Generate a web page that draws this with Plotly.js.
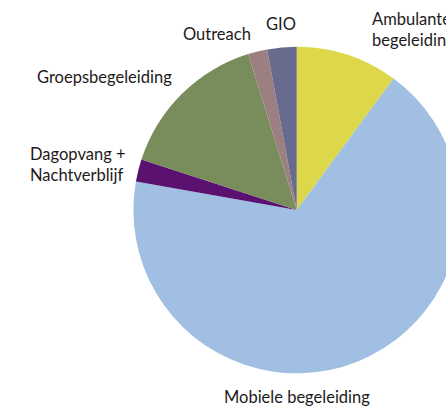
<!DOCTYPE html>
<html>
<head>
<meta charset="utf-8">
<script src="https://cdn.plot.ly/plotly-3.0.1.min.js"></script>
<style>
html,body{margin:0;padding:0;overflow:hidden;background:#fff;}
#chart{width:480px;height:412px;}
</style>
</head>
<body>
<div id="chart"></div>
<script>
// Data (percent shares)
const categories = ["Ambulante begeleiding", "Mobiele begeleiding", "Dagopvang + Nachtverblijf", "Groepsbegeleiding", "Outreach", "GIO"];
const shares = [10.1, 67.7, 2.2, 15.2, 1.9, 2.9];
const sliceColors = ["#DCD84A", "#A0BFE3", "#5A1170", "#798C5C", "#9C7F80", "#686B8D"];
const labelTexts = ["Ambulante<br>begeleiding", "Mobiele begeleiding", "Dagopvang +<br>Nachtverblijf", "Groepsbegeleiding", "Outreach", "GIO"];

const W = 480, H = 412;
const trace = {
  type: "pie",
  labels: categories,
  values: shares,
  sort: false,
  direction: "clockwise",
  rotation: 0,
  textinfo: "none",
  hoverinfo: "label+percent",
  marker: {colors: sliceColors, line: {width: 0}},
  domain: {x: [133.4 / W, 460 / W], y: [(H - 373.3) / H, (H - 46.7) / H]}
};

const font = {family: "Lato, sans-serif", size: 16.5, color: "#1E1A1B"};
const labelPos = [
  {x: 370, y: 30, xanchor: "left", align: "left"},
  {x: 296.7, y: 397, xanchor: "center", align: "center"},
  {x: 28, y: 165, xanchor: "left", align: "left"},
  {x: 104.3, y: 77.5, xanchor: "center", align: "center"},
  {x: 216.8, y: 33.5, xanchor: "center", align: "center"},
  {x: 281, y: 24, xanchor: "center", align: "center"}
];
const annotations = labelTexts.map((t, i) => ({
  text: t,
  xref: "paper", yref: "paper",
  x: labelPos[i].x / W, y: 1 - labelPos[i].y / H,
  xanchor: labelPos[i].xanchor, yanchor: "middle", align: labelPos[i].align,
  showarrow: false, font: font
}));

Plotly.newPlot("chart", [trace], {
  width: W, height: H,
  margin: {l: 0, r: 0, t: 0, b: 0},
  showlegend: false,
  paper_bgcolor: "#fff",
  annotations: annotations
}, {displayModeBar: false, staticPlot: true});
</script>
</body>
</html>
